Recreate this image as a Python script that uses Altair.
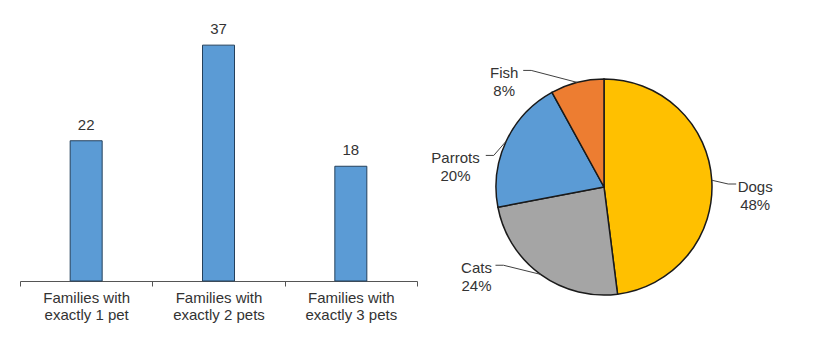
import math
import altair as alt
import pandas as pd

# ---- data ----
categories = ["Families with|exactly 1 pet", "Families with|exactly 2 pets", "Families with|exactly 3 pets"]
counts = [22, 37, 18]

pets = ["Dogs", "Cats", "Parrots", "Fish"]
shares = [48, 24, 20, 8]
pet_colors = ["#FFC000", "#A5A5A5", "#5B9BD5", "#ED7D31"]

FONT = "Liberation Sans"
TXT = "#333333"

# ---- bar chart ----
bar_df = pd.DataFrame({"cat": categories, "n": counts})
xb = alt.X(
    "cat:N", sort=categories, title=None,
    scale=alt.Scale(paddingInner=0, paddingOuter=0),
    axis=alt.Axis(labelExpr="split(datum.label, '|')", labelAngle=0, labelFontSize=15,
                  labelColor=TXT, labelLineHeight=17, labelPadding=4, tickSize=5,
                  tickBand="extent", domainColor="#555555", tickColor="#555555",
                  labelFont=FONT),
)
yb = alt.Y("n:Q", scale=alt.Scale(domain=[0, 40], nice=False), axis=None)
base = alt.Chart(bar_df).encode(x=xb, y=yb)
bars = base.mark_bar(size=32, color="#5B9BD5", stroke="#24405c", strokeWidth=1)
vals = base.mark_text(dy=-11, baseline="alphabetic", fontSize=15, color=TXT, font=FONT).encode(text="n:Q")
bar_chart = (bars + vals).properties(width=397, height=255)

# ---- pie chart ----
R = 108
LR = 1.4 * R
W, H = 336, 300
xs = alt.Scale(domain=[-W / 2, W / 2], nice=False, zero=False)
ys = alt.Scale(domain=[-139, H - 139], nice=False, zero=False)

pie_df = pd.DataFrame({"pet": pets, "share": shares, "idx": list(range(len(pets))),
                       "cx": [0] * len(pets), "cy": [0] * len(pets)})

label_rows, line_rows = [], []
cum = 0
for name, s in zip(pets, shares):
    mid = (cum + s / 2) * 3.6
    cum += s
    h = 90 if mid < 180 else 270
    d = mid - h
    dd = max(0.0, 0.75 * abs(d) - 8)
    phi = h + math.copysign(dd, d)
    lx, ly = LR * math.sin(math.radians(phi)), LR * math.cos(math.radians(phi))
    text = f"{name}\n{s}%"
    half = max(len(name), len(f"{s}%")) * 7.5 / 2
    side = 1 if lx > 0 else -1
    px = lx - side * (half + 4)
    py = ly + 3
    kx = px - side * 8
    ex, ey = R * math.sin(math.radians(mid)), R * math.cos(math.radians(mid))
    label_rows.append({"pet": name, "x": lx, "y": ly, "t": text})
    for k, (a, b) in enumerate([(px, py), (kx, py), (ex, ey)]):
        line_rows.append({"pet": name, "k": k, "x": a, "y": b})

arcs = alt.Chart(pie_df).mark_arc(radius=R, stroke="#1a1a1a", strokeWidth=1.5).encode(
    x=alt.X("cx:Q", scale=xs, axis=None),
    y=alt.Y("cy:Q", scale=ys, axis=None),
    theta=alt.Theta("share:Q", stack=True),
    order=alt.Order("idx:Q"),
    color=alt.Color("pet:N", scale=alt.Scale(domain=pets, range=pet_colors), legend=None),
)
leaders = alt.Chart(pd.DataFrame(line_rows)).mark_line(color="#404040", strokeWidth=1).encode(
    x=alt.X("x:Q", scale=xs, axis=None),
    y=alt.Y("y:Q", scale=ys, axis=None),
    detail="pet:N",
    order="k:Q",
)
labels = alt.Chart(pd.DataFrame(label_rows)).mark_text(
    fontSize=15, color=TXT, font=FONT, align="center", baseline="middle", lineBreak="\n", lineHeight=18
).encode(
    x=alt.X("x:Q", scale=xs, axis=None),
    y=alt.Y("y:Q", scale=ys, axis=None),
    text="t:N",
)
pie_chart = (arcs + leaders + labels).properties(width=W, height=H)

chart = alt.hconcat(bar_chart, pie_chart, spacing=13).properties(
    padding={"left": 11, "top": 14, "right": 0, "bottom": 0}
).configure(font=FONT).configure_view(strokeWidth=0, stroke="transparent")

chart.save("out.html", embed_options={"renderer": "svg", "actions": False})
